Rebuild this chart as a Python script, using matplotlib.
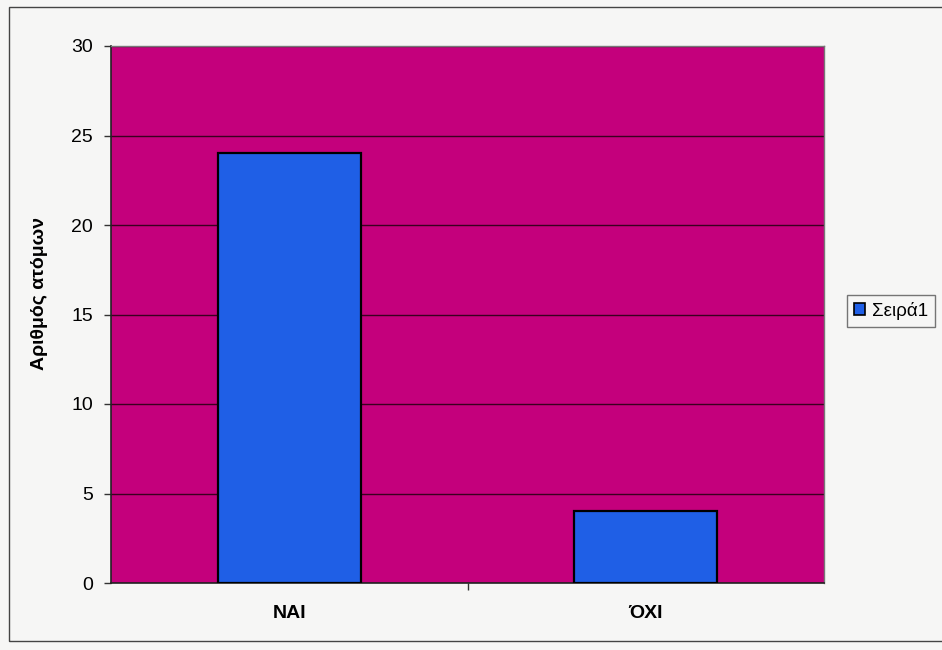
import matplotlib
matplotlib.use("Agg")
import matplotlib.pyplot as plt
from matplotlib.patches import Rectangle, Patch

categories = ["ΝΑΙ", "ΌΧΙ"]
values = [24, 4]
series_name = "Σειρά1"
y_ticks = [0, 5, 10, 15, 20, 25, 30]
y_label = "Αριθμός ατόμων"

plt.rcParams["font.family"] = ["Liberation Sans", "DejaVu Sans"]

fig = plt.figure(figsize=(9.42, 6.5), dpi=100)
fig.patch.set_facecolor("#f6f6f5")

# outer chart border (runs off the right edge)
fig.add_artist(Rectangle((9 / 942, 1 - 641 / 650), 940 / 942, 634 / 650,
                         transform=fig.transFigure, fill=False,
                         edgecolor="#444444", linewidth=1.0))

ax = fig.add_axes([111 / 942, 1 - 583 / 650, 713 / 942, 537 / 650])
ax.set_facecolor("#c4007c")

x = list(range(len(categories)))
ax.bar(x, values, width=0.4, color="#1f5fe6", edgecolor="black",
       linewidth=1.6, zorder=3, label=series_name)

ax.set_xlim(-0.5, len(categories) - 0.5)
ax.set_ylim(0, 30)
ax.set_yticks(y_ticks)
ax.set_yticklabels([str(t) for t in y_ticks], fontsize=14)
ax.yaxis.grid(True, color="#3a0020", linewidth=1.0, zorder=1)

ax.set_xticks([i + 0.5 for i in x[:-1]])
ax.set_xticklabels([])
ax.set_xticks(x, minor=True)
ax.set_xticklabels(categories, minor=True, fontsize=14, fontweight="bold")
ax.tick_params(axis="x", which="minor", length=0, pad=16)
ax.tick_params(axis="x", which="major", length=5, width=1, color="#333333")
ax.tick_params(axis="y", length=5, width=1, color="#333333", pad=8)

for side in ["top", "right"]:
    ax.spines[side].set_color("#777777")
    ax.spines[side].set_linewidth(1.0)
for side in ["left", "bottom"]:
    ax.spines[side].set_color("#222222")
    ax.spines[side].set_linewidth(1.2)

ax.set_ylabel(y_label, fontsize=14, fontweight="bold", labelpad=12)
ax.yaxis.set_label_coords(-0.088, 0.54)

handle = Patch(facecolor="#1f5fe6", edgecolor="black", linewidth=1.2)
leg = fig.legend([handle], [series_name], loc="center left",
                 bbox_to_anchor=(847 / 942, 1 - 311 / 650), fontsize=13.5,
                 frameon=True, fancybox=False, handlelength=0.6,
                 handleheight=0.6, handletextpad=0.4, borderpad=0.35,
                 borderaxespad=0)
leg.get_frame().set_edgecolor("#555555")
leg.get_frame().set_linewidth(1.0)
leg.get_frame().set_facecolor("#f7f7f5")

fig.savefig("out.png", dpi=100, facecolor=fig.get_facecolor())
